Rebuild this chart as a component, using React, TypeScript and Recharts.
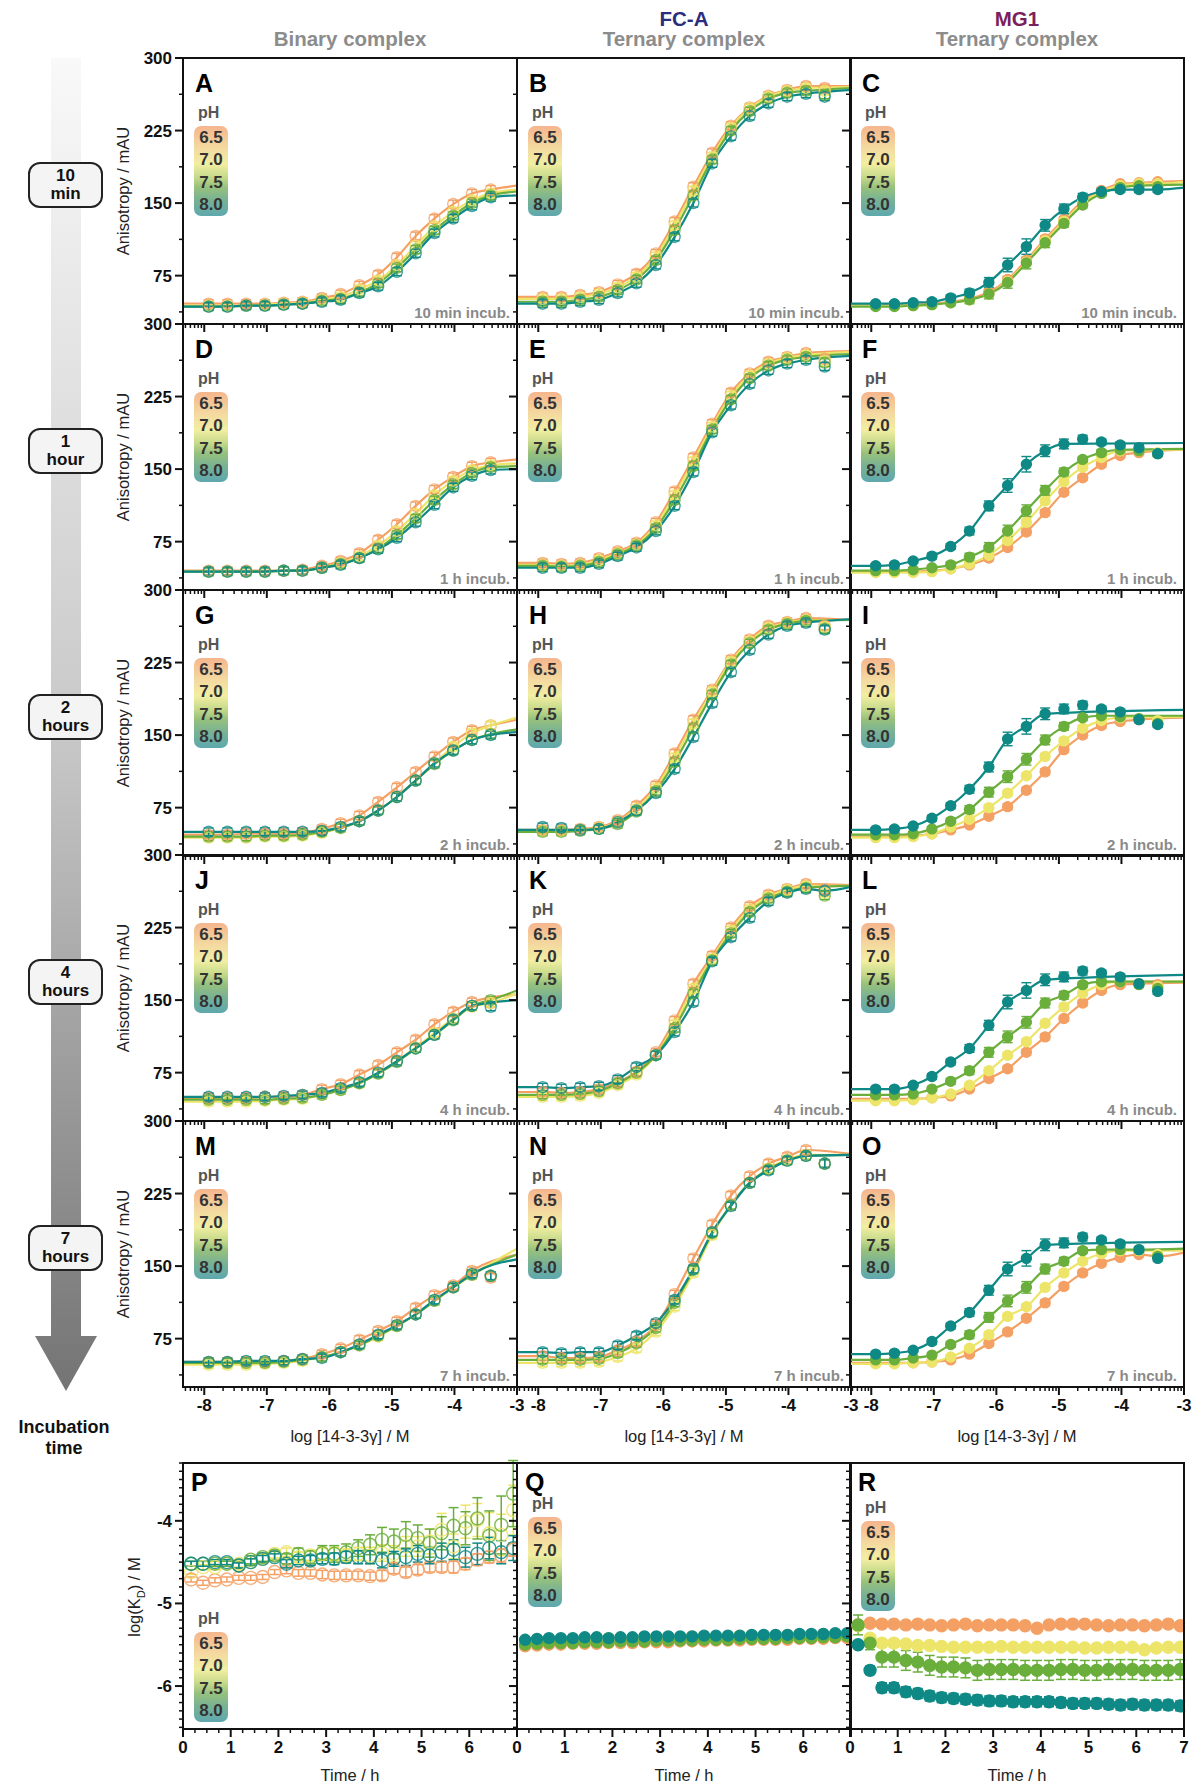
import React from "react";
import { ComposedChart, Line, Scatter, XAxis, YAxis, ErrorBar } from "recharts";

const FONT = '"Liberation Sans", Arial, Helvetica, sans-serif';

// pH series, orange -> teal
const PH = ["6.5", "7.0", "7.5", "8.0"];
const PH_COLORS = ["#F4A064", "#EDE56A", "#6AAE3C", "#0F8985"];

// log [14-3-3γ] / M of the 16 dilution points
const LOG_C = [-7.93, -7.63, -7.33, -7.03, -6.73, -6.43, -6.12, -5.82, -5.52, -5.22, -4.92, -4.62, -4.32, -4.02, -3.72, -3.42];
const X_MIN = -8.34;
const X_MAX = -3;
const X_MAJOR = [-8, -7, -6, -5, -4, -3];
const Y_MAJOR = [75, 150, 225, 300];
const Y_MINOR = [37.5, 112.5, 187.5, 262.5];

// incubation time / h for panels P-R
const TIME_H = [0.17, 0.42, 0.67, 0.92, 1.17, 1.42, 1.67, 1.92, 2.17, 2.42, 2.67, 2.92, 3.17, 3.42, 3.67, 3.92, 4.17, 4.42, 4.67, 4.92, 5.17, 5.42, 5.67, 5.92, 6.17, 6.42, 6.67, 6.92];
const T_MAJOR = [0, 1, 2, 3, 4, 5, 6, 7];
const KD_MAJOR = [-6, -5, -4];

const INCUB = ["10 min incub.", "1 h incub.", "2 h incub.", "4 h incub.", "7 h incub."];
const TIME_BOX = [["10", "min"], ["1", "hour"], ["2", "hours"], ["4", "hours"], ["7", "hours"]];

// ---- anisotropy (mAU), one row per pH ----
const A_PTS = [
  [46, 46, 46, 46, 47, 48, 52, 56, 65, 76, 94, 116, 134, 149, 160, 164],
  [44, 44, 44, 45, 46, 47, 50, 53, 61, 70, 86, 106, 126, 141, 153, 160],
  [43, 43, 44, 44, 45, 46, 49, 51, 58, 67, 83, 102, 122, 137, 150, 158],
  [43, 43, 44, 44, 45, 46, 48, 50, 57, 64, 79, 98, 119, 134, 147, 156],
];
const A_END = [168, 164, 162, 158];
const A_SKIP = [[], [], [], []];

const B_PTS = [
  [53, 53, 55, 58, 66, 77, 98, 131, 167, 202, 230, 249, 261, 267, 271, 269],
  [51, 51, 53, 56, 63, 74, 95, 127, 163, 198, 228, 248, 260, 266, 269, 266],
  [48, 48, 50, 53, 60, 71, 91, 122, 158, 195, 225, 245, 258, 264, 266, 262],
  [46, 46, 48, 50, 57, 67, 86, 115, 150, 191, 219, 240, 253, 260, 263, 260],
];
const B_END = [271, 270, 269, 267];
const B_SKIP = [[15], [15], [15], [15]];

const C_PTS = [
  [45, 45, 45, 46, 48, 51, 58, 71, 91, 113, 133, 152, 163, 170, 171, 172],
  [44, 44, 44, 45, 47, 50, 56, 69, 89, 111, 131, 150, 162, 168, 170, 170],
  [43, 43, 44, 45, 47, 50, 56, 68, 88, 109, 129, 148, 160, 166, 168, 167],
  [46, 46, 47, 48, 52, 57, 68, 86, 105, 127, 144, 156, 162, 164, 164, 164],
];
const C_END = [173, 172, 169, 166];
const C_SKIP = [[], [], [15], []];

const D_PTS = [
  [45, 45, 45, 45, 45, 46, 50, 55, 63, 77, 93, 112, 129, 142, 153, 157],
  [44, 44, 44, 44, 45, 45, 48, 53, 60, 71, 86, 104, 123, 138, 149, 154],
  [44, 44, 44, 44, 45, 45, 48, 52, 58, 68, 82, 99, 118, 134, 146, 152],
  [44, 44, 44, 44, 45, 45, 48, 51, 58, 67, 79, 95, 113, 131, 143, 149],
];
const D_END = [160, 156, 153, 150];
const D_SKIP = [[], [], [], []];

const E_PTS = [
  [53, 52, 53, 58, 65, 74, 95, 127, 162, 197, 229, 249, 261, 266, 270, 264],
  [51, 50, 51, 56, 63, 72, 92, 123, 158, 194, 226, 247, 259, 265, 268, 262],
  [50, 49, 50, 54, 62, 71, 89, 118, 153, 191, 222, 244, 257, 263, 266, 260],
  [48, 48, 48, 52, 60, 69, 86, 112, 147, 188, 216, 238, 252, 259, 263, 256],
];
const E_END = [272, 271, 269, 267];
const E_SKIP = [[15], [15], [15], [15]];

const F_PTS = [
  [44, 44, 44, 45, 47, 51, 58, 69, 85, 105, 126, 141, 155, 164, 167, 166],
  [43, 43, 43, 44, 47, 52, 61, 76, 95, 117, 137, 152, 162, 169, 169, 167],
  [45, 45, 46, 48, 51, 59, 69, 86, 107, 128, 147, 160, 167, 170, 169, 166],
  [50, 51, 55, 60, 70, 86, 112, 133, 155, 169, 176, 181, 178, 175, 172, 166],
];
const F_END = [170, 170, 171, 177];
const F_SKIP = [[15], [14, 15], [14, 15], [11, 12, 13, 14, 15]];

const G_PTS = [
  [47, 47, 48, 48, 48, 49, 53, 59, 67, 81, 96, 112, 128, 143, 155, 160],
  [44, 44, 44, 45, 45, 46, 49, 54, 61, 72, 86, 103, 121, 138, 152, 160],
  [45, 45, 45, 46, 46, 47, 50, 54, 61, 72, 86, 103, 120, 134, 145, 151],
  [50, 50, 50, 50, 50, 50, 51, 55, 61, 72, 86, 103, 121, 134, 145, 150],
];
const G_END = [166, 168, 156, 153];
const G_SKIP = [[], [], [], []];

const H_PTS = [
  [52, 52, 53, 55, 62, 77, 98, 131, 166, 197, 228, 249, 263, 267, 271, 263],
  [51, 51, 52, 54, 60, 74, 95, 127, 162, 195, 226, 247, 261, 266, 269, 262],
  [50, 50, 51, 53, 58, 71, 92, 122, 157, 192, 223, 245, 259, 265, 268, 260],
  [55, 54, 52, 53, 60, 72, 90, 115, 148, 183, 215, 238, 254, 263, 266, 259],
];
const H_END = [269, 269, 269, 270];
const H_SKIP = [[15], [15], [15], [0, 1, 15]];

const I_PTS = [
  [45, 45, 46, 48, 52, 57, 66, 76, 93, 112, 135, 150, 160, 164, 166, 162],
  [44, 44, 45, 48, 55, 63, 75, 90, 108, 128, 144, 157, 165, 168, 167, 165],
  [47, 47, 48, 53, 61, 73, 91, 107, 125, 145, 159, 168, 170, 169, 167, 162],
  [52, 53, 56, 64, 77, 94, 117, 146, 159, 172, 177, 181, 177, 174, 166, 161],
];
const I_END = [168, 169, 170, 176];
const I_SKIP = [[15], [14, 15], [13, 14, 15], [10, 11, 12, 13, 14, 15]];

const J_PTS = [
  [49, 49, 49, 50, 50, 52, 58, 63, 73, 83, 96, 109, 125, 138, 148, 147],
  [45, 45, 45, 46, 47, 48, 52, 57, 64, 74, 87, 101, 116, 131, 143, 147],
  [47, 47, 47, 47, 48, 49, 52, 57, 64, 74, 86, 100, 114, 129, 144, 150],
  [50, 50, 50, 50, 51, 52, 54, 59, 65, 75, 87, 100, 114, 130, 144, 143],
];
const J_END = [156, 157, 160, 150];
const J_SKIP = [[15], [], [], [15]];

const K_PTS = [
  [55, 54, 55, 58, 65, 76, 96, 129, 167, 196, 225, 247, 259, 265, 270, 264],
  [50, 50, 51, 54, 62, 73, 93, 125, 162, 193, 222, 244, 257, 264, 268, 261],
  [52, 52, 53, 56, 64, 75, 93, 121, 157, 191, 219, 241, 255, 262, 266, 258],
  [60, 59, 60, 61, 68, 81, 93, 117, 148, 190, 215, 235, 252, 261, 265, 263],
];
const K_END = [269, 268, 268, 267];
const K_SKIP = [[15], [15], [15], []];

const L_PTS = [
  [48, 48, 48, 49, 51, 58, 69, 79, 96, 112, 131, 147, 160, 166, 167, 166],
  [46, 46, 47, 49, 53, 62, 77, 93, 107, 126, 143, 157, 166, 169, 167, 164],
  [52, 52, 53, 58, 66, 77, 96, 112, 127, 147, 155, 166, 169, 169, 166, 162],
  [58, 58, 62, 71, 86, 100, 124, 148, 160, 171, 174, 180, 178, 174, 167, 159],
];
const L_END = [168, 169, 169, 176];
const L_SKIP = [[15], [14, 15], [13, 14, 15], [10, 11, 12, 13, 14, 15]];

const M_PTS = [
  [51, 51, 51, 51, 52, 54, 59, 65, 74, 83, 93, 107, 120, 130, 145, 138],
  [48, 48, 48, 49, 50, 52, 56, 61, 68, 77, 88, 100, 114, 128, 141, 140],
  [50, 50, 50, 50, 51, 53, 56, 61, 68, 78, 88, 100, 114, 128, 141, 140],
  [51, 51, 52, 52, 52, 54, 55, 61, 69, 79, 89, 100, 115, 128, 142, 140],
];
const M_END = [162, 168, 162, 157];
const M_SKIP = [[15], [15], [15], [15]];

const N_PTS = [
  [57, 55, 55, 56, 63, 72, 89, 121, 158, 193, 223, 243, 256, 263, 270, 256],
  [50, 50, 50, 51, 56, 65, 82, 108, 143, 182, 213, 236, 251, 260, 265, 256],
  [53, 53, 53, 54, 60, 70, 86, 112, 146, 184, 213, 236, 250, 259, 264, 256],
  [61, 60, 61, 61, 68, 78, 91, 115, 147, 185, 212, 236, 249, 259, 264, 256],
];
const N_END = [266, 265, 265, 265];
const N_SKIP = [[15], [15], [15], [15]];

const O_PTS = [
  [50, 50, 50, 51, 53, 59, 70, 82, 96, 112, 129, 143, 153, 159, 162, 160],
  [49, 49, 50, 51, 56, 65, 79, 98, 108, 128, 143, 155, 163, 166, 166, 162],
  [53, 53, 55, 58, 69, 79, 97, 114, 128, 147, 155, 166, 167, 167, 167, 160],
  [59, 60, 63, 72, 88, 102, 125, 147, 158, 172, 174, 180, 177, 173, 167, 158],
];
const O_END = [164, 166, 168, 175];
const O_SKIP = [[], [14, 15], [15], [10, 11, 12, 13, 14, 15]];

// error bars (mAU)
const ERR_OPEN = [4, 4, 4, 4, 4, 4, 4, 4, 4, 4, 4, 4, 4, 4, 4, 4];
const ERR_SMALL = [2, 2, 2, 2, 2, 2, 3, 3, 3, 3, 3, 3, 3, 2, 2, 2];
const ERR_GREEN = [2, 2, 2, 2, 3, 4, 5, 6, 6, 5, 4, 3, 3, 3, 3, 3];
const ERR_TEAL = [2, 2, 2, 3, 3, 4, 5, 7, 8, 6, 5, 4, 3, 3, 3, 3];

// ---- log(KD) vs time ----
const P_PTS = [
  [-4.71, -4.75, -4.72, -4.71, -4.69, -4.69, -4.68, -4.62, -4.6, -4.63, -4.63, -4.65, -4.66, -4.66, -4.66, -4.67, -4.66, -4.58, -4.62, -4.59, -4.56, -4.56, -4.56, -4.52, -4.47, -4.44, -4.42, -4.35],
  [-4.62, -4.56, -4.56, -4.52, -4.52, -4.5, -4.46, -4.4, -4.38, -4.44, -4.42, -4.4, -4.4, -4.42, -4.4, -4.42, -4.39, -4.4, -4.31, -4.31, -4.25, -4.11, -4.31, -4.01, -3.99, -4.15, -4.17, -3.87],
  [-4.52, -4.52, -4.52, -4.52, -4.54, -4.47, -4.44, -4.42, -4.46, -4.4, -4.44, -4.39, -4.4, -4.38, -4.33, -4.29, -4.23, -4.25, -4.17, -4.21, -4.27, -4.15, -4.06, -4.09, -3.97, -4.18, -4.05, -3.67],
  [-4.52, -4.52, -4.5, -4.5, -4.54, -4.5, -4.46, -4.44, -4.52, -4.48, -4.48, -4.46, -4.46, -4.44, -4.44, -4.44, -4.48, -4.46, -4.44, -4.4, -4.42, -4.38, -4.35, -4.44, -4.4, -4.33, -4.38, -4.33],
];
const P_ERR = [
  [0.03, 0.03, 0.03, 0.03, 0.03, 0.03, 0.03, 0.03, 0.04, 0.04, 0.04, 0.05, 0.05, 0.05, 0.05, 0.05, 0.06, 0.06, 0.06, 0.06, 0.06, 0.06, 0.07, 0.07, 0.07, 0.07, 0.08, 0.08],
  [0.03, 0.03, 0.03, 0.03, 0.04, 0.04, 0.05, 0.05, 0.05, 0.06, 0.06, 0.07, 0.08, 0.08, 0.08, 0.1, 0.1, 0.1, 0.12, 0.12, 0.15, 0.2, 0.15, 0.2, 0.2, 0.25, 0.25, 0.3],
  [0.03, 0.03, 0.03, 0.03, 0.04, 0.05, 0.05, 0.05, 0.06, 0.07, 0.08, 0.09, 0.1, 0.1, 0.1, 0.12, 0.15, 0.15, 0.16, 0.16, 0.17, 0.2, 0.22, 0.2, 0.25, 0.3, 0.35, 0.4],
  [0.03, 0.03, 0.03, 0.03, 0.03, 0.04, 0.04, 0.04, 0.05, 0.05, 0.06, 0.06, 0.07, 0.07, 0.08, 0.08, 0.09, 0.09, 0.1, 0.1, 0.1, 0.11, 0.12, 0.12, 0.13, 0.13, 0.14, 0.15],
];

const Q_PTS = [
  [-5.52, -5.51, -5.5, -5.5, -5.49, -5.49, -5.49, -5.48, -5.48, -5.48, -5.47, -5.47, -5.47, -5.46, -5.46, -5.46, -5.45, -5.45, -5.45, -5.44, -5.44, -5.44, -5.44, -5.43, -5.43, -5.43, -5.42, -5.42],
  [-5.46, -5.44, -5.43, -5.44, -5.43, -5.43, -5.42, -5.42, -5.42, -5.42, -5.41, -5.41, -5.41, -5.41, -5.4, -5.4, -5.4, -5.4, -5.39, -5.39, -5.39, -5.39, -5.38, -5.38, -5.38, -5.37, -5.37, -5.37],
  [-5.5, -5.49, -5.48, -5.48, -5.48, -5.47, -5.47, -5.47, -5.46, -5.46, -5.46, -5.45, -5.45, -5.45, -5.45, -5.44, -5.44, -5.44, -5.43, -5.43, -5.43, -5.43, -5.42, -5.42, -5.42, -5.41, -5.41, -5.4],
  [-5.44, -5.43, -5.42, -5.42, -5.42, -5.41, -5.41, -5.42, -5.41, -5.41, -5.4, -5.4, -5.4, -5.4, -5.4, -5.39, -5.39, -5.39, -5.39, -5.38, -5.38, -5.38, -5.38, -5.37, -5.37, -5.37, -5.36, -5.36],
];
const KD_ERR_SMALL = [0.03, 0.03, 0.03, 0.03, 0.03, 0.03, 0.03, 0.03, 0.03, 0.03, 0.03, 0.03, 0.03, 0.03, 0.03, 0.03, 0.03, 0.03, 0.03, 0.03, 0.03, 0.03, 0.03, 0.03, 0.03, 0.03, 0.03, 0.03];

const R_PTS = [
  [-5.26, -5.24, -5.25, -5.25, -5.26, -5.25, -5.26, -5.27, -5.26, -5.25, -5.27, -5.26, -5.26, -5.26, -5.27, -5.3, -5.26, -5.25, -5.25, -5.25, -5.26, -5.27, -5.26, -5.26, -5.27, -5.26, -5.25, -5.27],
  [-5.27, -5.42, -5.48, -5.48, -5.49, -5.51, -5.51, -5.52, -5.53, -5.53, -5.53, -5.53, -5.52, -5.53, -5.53, -5.53, -5.53, -5.53, -5.53, -5.54, -5.54, -5.53, -5.53, -5.53, -5.56, -5.54, -5.53, -5.53],
  [-5.26, -5.48, -5.65, -5.65, -5.69, -5.71, -5.75, -5.77, -5.77, -5.78, -5.81, -5.8, -5.8, -5.8, -5.81, -5.81, -5.81, -5.8, -5.8, -5.81, -5.81, -5.8, -5.8, -5.8, -5.81, -5.81, -5.81, -5.8],
  [-5.5, -5.81, -6.02, -6.02, -6.07, -6.09, -6.12, -6.14, -6.15, -6.16, -6.17, -6.18, -6.18, -6.19, -6.19, -6.19, -6.19, -6.2, -6.21, -6.21, -6.21, -6.22, -6.23, -6.22, -6.23, -6.23, -6.23, -6.24],
];
const R_ERR_GREEN = [0.12, 0.08, 0.12, 0.12, 0.12, 0.12, 0.12, 0.12, 0.12, 0.12, 0.12, 0.12, 0.12, 0.12, 0.12, 0.12, 0.12, 0.12, 0.12, 0.12, 0.12, 0.12, 0.12, 0.12, 0.12, 0.12, 0.12, 0.12];
const R_ERR_TEAL = [0.03, 0.05, 0.06, 0.06, 0.06, 0.06, 0.06, 0.06, 0.06, 0.06, 0.06, 0.06, 0.06, 0.06, 0.06, 0.06, 0.06, 0.06, 0.06, 0.06, 0.06, 0.06, 0.06, 0.06, 0.06, 0.06, 0.06, 0.06];

// ---- layout ----
const COL_X = [183, 517, 850];
const ROW_Y = [58, 324, 590, 855, 1121];
const PW = 334;
const PHT = 266;
const BOT_Y = 1463;
const YW = 56, TM = 14, RM = 14, XH = 34;
const KD_DOMAIN = [-6.52, -3.3];

// minor ticks on the log-concentration axis
const X_TICKS: number[] = [...X_MAJOR];
for (let d = -9; d < -3; d++) {
  for (let k = 2; k <= 9; k++) {
    const v = d + Math.log10(k);
    if (v > X_MIN && v < X_MAX) X_TICKS.push(v);
  }
}
const Y_TICKS = [...Y_MAJOR, ...Y_MINOR];
const T_TICKS: number[] = [];
for (let i = 0; i <= 28; i++) T_TICKS.push(i / 4);
const KD_TICKS: number[] = [];
for (let i = -65; i <= -33; i++) KD_TICKS.push(i / 10);

const isMajor = (v: number, majors: number[]) => majors.some((m) => Math.abs(m - v) < 1e-6);

function XTick(props: any) {
  const { x, y, payload, majors, show, maxLabel } = props;
  const major = isMajor(payload.value, majors);
  const label = major && show && (maxLabel === undefined || payload.value <= maxLabel);
  return (
    <g>
      <line x1={x} x2={x} y1={y} y2={y + (major ? 8 : 4)} stroke="#111" strokeWidth={major ? 2 : 1.5} />
      {label && (
        <text x={x} y={y + 24} textAnchor="middle" fontSize={17} fontWeight="bold" fill="#111" fontFamily={FONT}>
          {payload.value}
        </text>
      )}
    </g>
  );
}

function YTick(props: any) {
  const { x, y, payload, majors, show } = props;
  const major = isMajor(payload.value, majors);
  return (
    <g>
      <line x1={x} x2={x - (major ? 8 : 4)} y1={y} y2={y} stroke="#111" strokeWidth={major ? 2 : 1.5} />
      {major && show && (
        <text x={x - 11} y={y + 6} textAnchor="end" fontSize={17} fontWeight="bold" fill="#111" fontFamily={FONT}>
          {payload.value}
        </text>
      )}
    </g>
  );
}

const circle = (color: string, filled: boolean, r: number, op: number) => (p: any) => (
  <circle cx={p.cx} cy={p.cy} r={r} fill={filled ? color : "none"} stroke={color} strokeWidth={1.4} opacity={op} />
);

function PhLegend({ left, top }: { left: number; top: number }) {
  return (
    <div style={{ position: "absolute", left, top, fontFamily: FONT }}>
      <div style={{ position: "absolute", left: 4, top: -25, fontSize: 16, fontWeight: "bold", color: "#555", lineHeight: "24px" }}>pH</div>
      <div
        style={{
          position: "absolute", left: 0, top: 0, width: 34, height: 90, borderRadius: 7,
          background: "linear-gradient(to bottom, #F5B58E 0%, #F4D9A0 24%, #F2EEA2 42%, #C8DB8C 56%, #97C17C 68%, #79B294 82%, #5EA8AE 100%)",
        }}
      >
        {PH.map((p, i) => (
          <div key={p} style={{ position: "absolute", left: 0, width: 34, top: 1 + i * 22.3, height: 22.3, lineHeight: "22.3px", textAlign: "center", fontSize: 17, fontWeight: "bold", color: "#333" }}>
            {p}
          </div>
        ))}
      </div>
    </div>
  );
}

function Border({ left, top }: { left: number; top: number }) {
  return <div style={{ position: "absolute", left: left - 1, top: top - 1, width: PW + 2, height: PHT + 2, border: "2px solid #111", boxSizing: "border-box", pointerEvents: "none" }} />;
}

function Letter({ left, top, text }: { left: number; top: number; text: string }) {
  return <div style={{ position: "absolute", left, top, fontFamily: FONT, fontWeight: "bold", fontSize: 25, lineHeight: "26px", color: "#000" }}>{text}</div>;
}

function CurvePanel({ col, row, letter, pts, end, skip }: any) {
  const left = COL_X[col];
  const top = ROW_Y[row];
  const errs = col === 2 ? [ERR_SMALL, ERR_SMALL, ERR_GREEN, ERR_TEAL] : [ERR_OPEN, ERR_OPEN, ERR_OPEN, ERR_OPEN];
  const lines = pts.map((ys: number[], s: number) => {
    const kept = ys.map((y, i) => ({ x: LOG_C[i], y })).filter((_, i) => !skip[s].includes(i));
    return [{ x: X_MIN, y: kept[0].y }, ...kept, { x: X_MAX, y: end[s] }];
  });
  const dots = pts.map((ys: number[], s: number) => ys.map((y, i) => ({ x: LOG_C[i], y, e: errs[s][i] })));
  const filled = col === 2;
  return (
    <>
      <div style={{ position: "absolute", left: left - YW, top: top - TM }}>
        <ComposedChart width={YW + PW + RM} height={TM + PHT + XH} margin={{ top: TM, right: RM, bottom: 0, left: 0 }}>
          <XAxis type="number" dataKey="x" domain={[X_MIN, X_MAX]} ticks={X_TICKS} interval={0} allowDataOverflow height={XH}
            axisLine={false} tickLine={false} tickSize={0} tickMargin={0}
            tick={(p: any) => <XTick {...p} majors={X_MAJOR} show={row === 4} />} />
          <YAxis type="number" domain={[25, 300]} ticks={Y_TICKS} interval={0} allowDataOverflow width={YW}
            axisLine={false} tickLine={false} tickSize={0} tickMargin={0}
            tick={(p: any) => <YTick {...p} majors={Y_MAJOR} show={col === 0} />} />
          {lines.map((d: any, s: number) => (
            <Line key={"l" + s} data={d} dataKey="y" type="monotone" stroke={PH_COLORS[s]} strokeWidth={2.2} dot={false} activeDot={false} isAnimationActive={false} />
          ))}
          {dots.map((d: any, s: number) => (
            <Scatter key={"s" + s} data={d} dataKey="y" isAnimationActive={false} shape={circle(PH_COLORS[s], filled, filled ? 5 : 5.5, filled ? 1 : 0.75)}>
              <ErrorBar dataKey="e" direction="y" width={5} stroke={PH_COLORS[s]} strokeWidth={1.4} isAnimationActive={false} />
            </Scatter>
          ))}
        </ComposedChart>
      </div>
      <Border left={left} top={top} />
      <Letter left={left + 12} top={top + 12} text={letter} />
      <PhLegend left={left + 11} top={top + 68} />
      <div style={{ position: "absolute", left: left + PW - 200, width: 193, top: top + PHT - 21, textAlign: "right", fontFamily: FONT, fontWeight: "bold", fontSize: 15, color: "#8a8a8a", lineHeight: "20px" }}>
        {INCUB[row]}
      </div>
    </>
  );
}

function TimePanel({ col, letter, pts, errs, filled, r, legendTop, maxLabel }: any) {
  const left = COL_X[col];
  const top = BOT_Y;
  const dots = pts.map((ys: number[], s: number) => ys.map((y, i) => ({ x: TIME_H[i], y, e: errs[s][i] })));
  return (
    <>
      <div style={{ position: "absolute", left: left - YW, top: top - TM }}>
        <ComposedChart width={YW + PW + RM} height={TM + PHT + XH} margin={{ top: TM, right: RM, bottom: 0, left: 0 }}>
          <XAxis type="number" dataKey="x" domain={[0, 7]} ticks={T_TICKS} interval={0} allowDataOverflow height={XH}
            axisLine={false} tickLine={false} tickSize={0} tickMargin={0}
            tick={(p: any) => <XTick {...p} majors={T_MAJOR} show maxLabel={maxLabel} />} />
          <YAxis type="number" domain={KD_DOMAIN} ticks={KD_TICKS} interval={0} allowDataOverflow width={YW}
            axisLine={false} tickLine={false} tickSize={0} tickMargin={0}
            tick={(p: any) => <YTick {...p} majors={KD_MAJOR} show={col === 0} />} />
          {dots.map((d: any, s: number) => (
            <Scatter key={"s" + s} data={d} dataKey="y" isAnimationActive={false} shape={circle(PH_COLORS[s], filled, r, filled ? 1 : 0.85)}>
              <ErrorBar dataKey="e" direction="y" width={5} stroke={PH_COLORS[s]} strokeWidth={1.5} isAnimationActive={false} />
            </Scatter>
          ))}
        </ComposedChart>
      </div>
      <Border left={left} top={top} />
      <Letter left={left + 8} top={top + 6} text={letter} />
      <PhLegend left={left + 11} top={top + legendTop} />
    </>
  );
}

const CURVES = [
  { letter: "A", pts: A_PTS, end: A_END, skip: A_SKIP },
  { letter: "B", pts: B_PTS, end: B_END, skip: B_SKIP },
  { letter: "C", pts: C_PTS, end: C_END, skip: C_SKIP },
  { letter: "D", pts: D_PTS, end: D_END, skip: D_SKIP },
  { letter: "E", pts: E_PTS, end: E_END, skip: E_SKIP },
  { letter: "F", pts: F_PTS, end: F_END, skip: F_SKIP },
  { letter: "G", pts: G_PTS, end: G_END, skip: G_SKIP },
  { letter: "H", pts: H_PTS, end: H_END, skip: H_SKIP },
  { letter: "I", pts: I_PTS, end: I_END, skip: I_SKIP },
  { letter: "J", pts: J_PTS, end: J_END, skip: J_SKIP },
  { letter: "K", pts: K_PTS, end: K_END, skip: K_SKIP },
  { letter: "L", pts: L_PTS, end: L_END, skip: L_SKIP },
  { letter: "M", pts: M_PTS, end: M_END, skip: M_SKIP },
  { letter: "N", pts: N_PTS, end: N_END, skip: N_SKIP },
  { letter: "O", pts: O_PTS, end: O_END, skip: O_SKIP },
];

const txt = (extra: React.CSSProperties): React.CSSProperties => ({ position: "absolute", fontFamily: FONT, whiteSpace: "nowrap", transform: "translate(-50%, -50%)", ...extra });

export default function App() {
  return (
    <div style={{ position: "absolute", left: 0, top: 0, width: 1201, height: 1785, background: "#fff", overflow: "hidden" }}>
      <style>{".recharts-surface{overflow:visible}"}</style>

      {/* incubation-time arrow */}
      <svg width={120} height={1400} style={{ position: "absolute", left: 0, top: 0 }}>
        <defs>
          <linearGradient id="arrowGrad" gradientUnits="userSpaceOnUse" x1={0} y1={58} x2={0} y2={1390}>
            <stop offset="0" stopColor="#f9f9f9" />
            <stop offset="0.5" stopColor="#c9c9c9" />
            <stop offset="1" stopColor="#747474" />
          </linearGradient>
        </defs>
        <rect x={51} y={58} width={30} height={1279} fill="url(#arrowGrad)" />
        <polygon points="35,1336 97,1336 66,1391" fill="url(#arrowGrad)" />
      </svg>
      {TIME_BOX.map((t, i) => (
        <div key={i} style={{ position: "absolute", left: 28, top: ROW_Y[i] + 104, width: 75, height: 46, border: "2px solid #222", borderRadius: 12, background: "#f4f4f4", boxSizing: "border-box", display: "flex", flexDirection: "column", justifyContent: "center", alignItems: "center", fontFamily: FONT, fontWeight: "bold", fontSize: 17, lineHeight: "18px", color: "#111" }}>
          <div>{t[0]}</div>
          <div>{t[1]}</div>
        </div>
      ))}
      <div style={txt({ left: 64, top: 1427, fontSize: 18, fontWeight: "bold", color: "#111" })}>Incubation</div>
      <div style={txt({ left: 64, top: 1448, fontSize: 18, fontWeight: "bold", color: "#111" })}>time</div>

      {/* column titles */}
      <div style={txt({ left: 350, top: 39, fontSize: 20.5, fontWeight: "bold", color: "#8c8c8c" })}>Binary complex</div>
      <div style={txt({ left: 684, top: 19, fontSize: 20.5, fontWeight: "bold", color: "#2B2D7F" })}>FC-A</div>
      <div style={txt({ left: 684, top: 39, fontSize: 20.5, fontWeight: "bold", color: "#8c8c8c" })}>Ternary complex</div>
      <div style={txt({ left: 1017, top: 19, fontSize: 20.5, fontWeight: "bold", color: "#7B1F5E" })}>MG1</div>
      <div style={txt({ left: 1017, top: 39, fontSize: 20.5, fontWeight: "bold", color: "#8c8c8c" })}>Ternary complex</div>

      {CURVES.map((c, i) => (
        <CurvePanel key={c.letter} col={i % 3} row={Math.floor(i / 3)} letter={c.letter} pts={c.pts} end={c.end} skip={c.skip} />
      ))}

      {ROW_Y.map((y, i) => (
        <div key={i} style={txt({ left: 123, top: y + PHT / 2, fontSize: 16.5, color: "#222", transform: "translate(-50%, -50%) rotate(-90deg)" })}>Anisotropy / mAU</div>
      ))}
      {COL_X.map((x, i) => (
        <div key={i} style={txt({ left: x + PW / 2, top: 1436, fontSize: 16.5, color: "#222" })}>log [14-3-3γ] / M</div>
      ))}

      <TimePanel col={0} letter="P" pts={P_PTS} errs={P_ERR} filled={false} r={6.5} legendTop={169} maxLabel={6} />
      <TimePanel col={1} letter="Q" pts={Q_PTS} errs={[KD_ERR_SMALL, KD_ERR_SMALL, KD_ERR_SMALL, KD_ERR_SMALL]} filled r={5.5} legendTop={54} maxLabel={6} />
      <TimePanel col={2} letter="R" pts={R_PTS} errs={[KD_ERR_SMALL, KD_ERR_SMALL, R_ERR_GREEN, R_ERR_TEAL]} filled r={6} legendTop={58} maxLabel={7} />

      <div style={txt({ left: 136, top: 1597, fontSize: 16.5, color: "#222", transform: "translate(-50%, -50%) rotate(-90deg)" })}>
        log(K<sub style={{ fontSize: 11 }}>D</sub>) / M
      </div>
      {COL_X.map((x, i) => (
        <div key={i} style={txt({ left: x + PW / 2, top: 1775, fontSize: 16.5, color: "#222" })}>Time / h</div>
      ))}
    </div>
  );
}
